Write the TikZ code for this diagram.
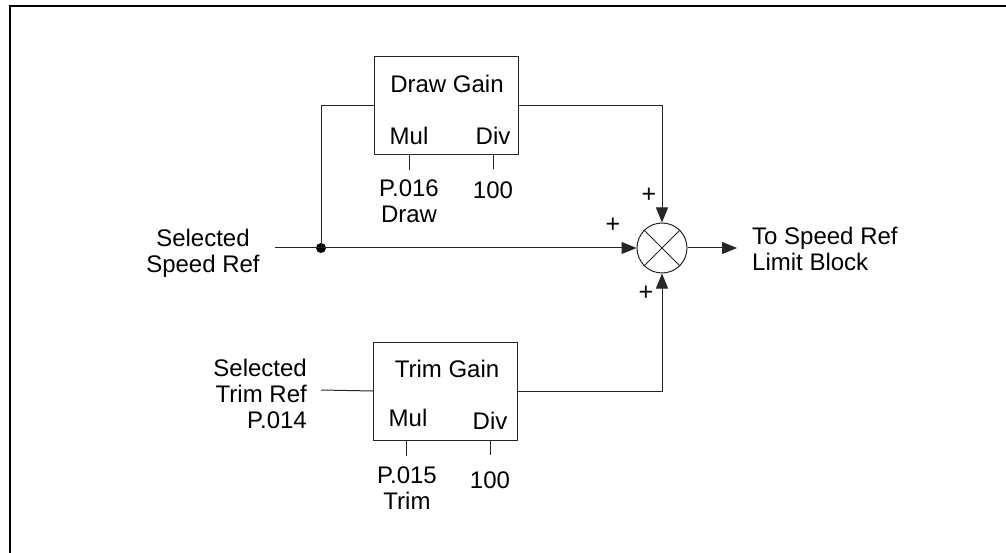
\documentclass[tikz,border=0pt]{standalone}
\usepackage{fontspec}
\setmainfont{Liberation Sans}
\usetikzlibrary{arrows.meta}
\begin{document}
\begin{tikzpicture}[x=1pt,y=-1pt,
  every node/.style={font=\fontsize{24}{26}\selectfont, inner sep=0pt},
  wire/.style={line width=1pt, draw=black!85},
  arr/.style={wire, -{Triangle[length=15pt,width=12pt]}},
  gainbox/.style={draw=black!85, line width=1pt, minimum width=144pt, minimum height=98pt},
  sumnode/.style={draw=black!85, line width=1pt, circle, minimum size=50pt},
  lbl/.style={align=center},
  plus/.style={font=\fontsize{25}{26}\selectfont}]
\useasboundingbox (0,0) rectangle (1006,553);
% frame
\draw[line width=1.6pt] (10,553) -- (10,6) -- (1006,6);

% blocks
\node[gainbox] (dg) at (446,106) {};
\node[gainbox] (tg) at (445.5,391) {};
\node[sumnode] (sum) at (662,248) {};
\draw[wire] (sum.north west) -- (sum.south east);
\draw[wire] (sum.north east) -- (sum.south west);

% texts inside boxes
\node (dgt) at (447,84) {Draw Gain};
\node (dgmul) at (409,136) {Mul};
\node (dgdiv) at (493,136) {Div};
\node (tgt) at (447,369) {Trim Gain};
\node (tgmul) at (408,418) {Mul};
\node (tgdiv) at (490,421) {Div};

% parameter texts
\node[lbl] (p016) at (409,201) {P.016\\Draw};
\node (d100) at (493,190) {100};
\node[lbl] (p015) at (407,488) {P.015\\Trim};
\node (t100) at (490,480) {100};

% ticks
\coordinate (dgmt) at (409,170);
\coordinate (dgdt) at (493,169);
\coordinate (tgmt) at (406,456);
\coordinate (tgdt) at (490,455);
\draw[wire] (dgmt) -- (dgmt |- dg.south);
\draw[wire] (dgdt) -- (dgdt |- dg.south);
\draw[wire] (tgmt) -- (tgmt |- tg.south);
\draw[wire] (tgdt) -- (tgdt |- tg.south);

% input labels
\node[lbl] (sref) at (203,253) {Selected\\Speed Ref};
\node[align=right, anchor=east] (tref) at (307,394) {Selected\\Trim Ref\\P.014};
\node[align=left, anchor=west] (outl) at (752,249) {To Speed Ref\\Limit Block};

% signs
\node[plus] (pl1) at (613,225) {+};
\node[plus] (pl2) at (649,195) {+};
\node[plus] (pl3) at (646,293) {+};

% connectors
\coordinate (in1) at (275,248);
\coordinate (tin) at (321,390);
\coordinate (out) at (737,248);
\node[circle, fill=black, minimum size=10pt] (j) at (321,248) {};
\draw[wire] (in1) -- (j.center);
\draw[arr] (j.center) -- (sum.west);
\draw[wire] (j.center) |- (dg.west);
\draw[arr] (dg.east) -| (sum.north);
\draw[wire] (tin) -- (tg.west);
\draw[arr] (tg.east) -| (sum.south);
\draw[arr] (sum.east) -- (out);
\end{tikzpicture}
\end{document}
